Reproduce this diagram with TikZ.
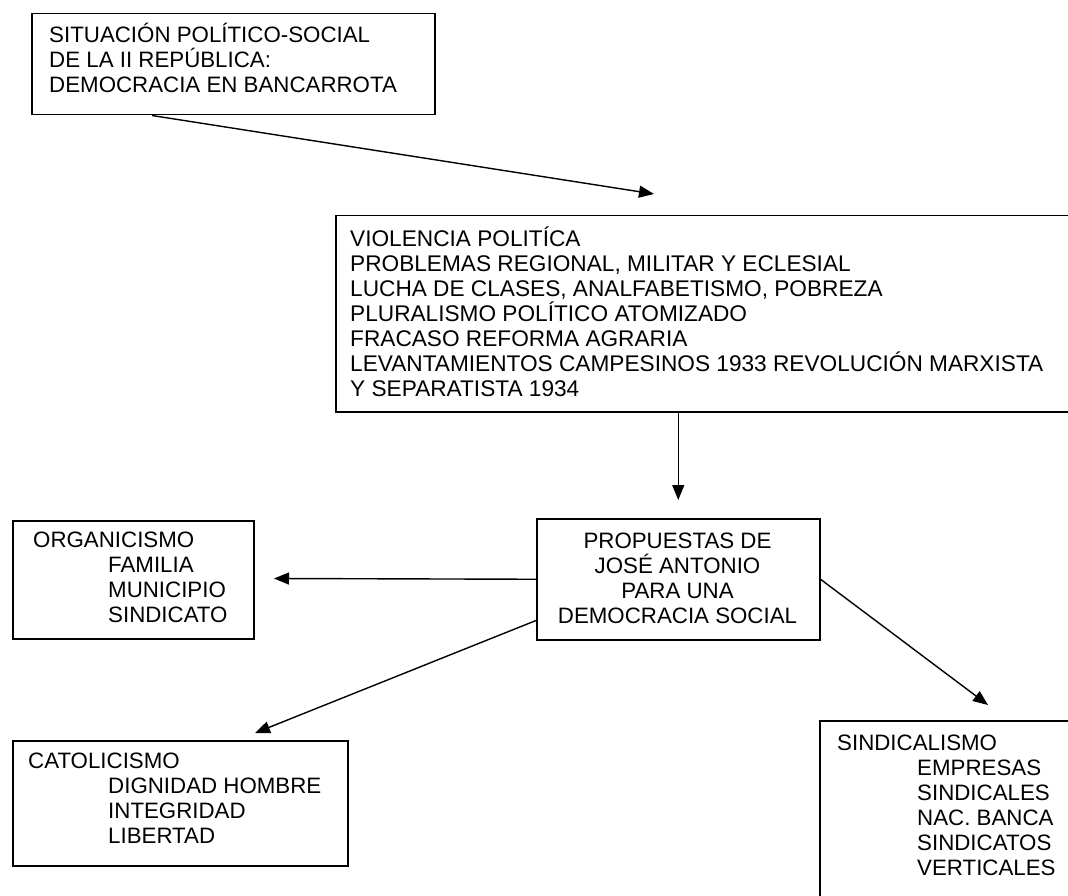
\documentclass[tikz,border=0pt]{standalone}
\usepackage{fontspec}
\setmainfont{Liberation Sans}
\usetikzlibrary{arrows.meta,calc}
\newcommand{\fs}{\fontsize{22.3pt}{25pt}\selectfont}
\newcommand{\fsb}{\fontsize{22.65pt}{25pt}\selectfont}
\newcommand{\st}{\rule{0pt}{22pt}}
\newcommand{\ind}[1]{\hspace*{#1pt}}
\begin{document}
\begin{tikzpicture}[x=1pt,y=-1pt,
  box/.style={draw, line width=1.5pt, anchor=north west, inner sep=0pt},
  txt/.style={anchor=north west, inner sep=0pt, align=left, font=\fs},
  ctxt/.style={anchor=north, inner sep=0pt, align=center, font=\fs},
  conn/.style={line width=1.4pt, -{Triangle[length=15pt,width=12pt]}}]
\useasboundingbox[fill=white] (0,0) rectangle (1068,896);

% boxes
\node[box, minimum width=403pt, minimum height=101pt] (b1) at (31,13) {};
\node[box, minimum width=745pt, minimum height=196pt] (b2) at (335,215) {};
\node[box, minimum width=283pt, minimum height=121pt] (b3) at (536,518) {};
\node[box, minimum width=241pt, minimum height=118pt] (b4) at (12,520) {};
\node[box, minimum width=335pt, minimum height=125pt] (b5) at (12,740) {};
\node[box, minimum width=260pt, minimum height=190pt] (b6) at (819,720) {};

% texts
\node[txt] (t1) at (49,20) {\st SITUACIÓN POLÍTICO-SOCIAL\\DE LA II REPÚBLICA:\\DEMOCRACIA EN BANCARROTA};
\node[txt, font=\fsb] (t2) at (350,224) {\st VIOLENCIA POLITÍCA\\PROBLEMAS REGIONAL, MILITAR Y ECLESIAL\\LUCHA DE CLASES, ANALFABETISMO, POBREZA\\PLURALISMO POLÍTICO ATOMIZADO\\FRACASO REFORMA AGRARIA\\LEVANTAMIENTOS CAMPESINOS 1933 REVOLUCIÓN MARXISTA\\Y SEPARATISTA 1934};
\node[ctxt] (t3) at (677.5,526) {\st PROPUESTAS DE\\JOSÉ ANTONIO\\PARA UNA\\DEMOCRACIA SOCIAL};
\node[txt] (t4) at (33,525) {\st ORGANICISMO\\\ind{75}FAMILIA\\\ind{75}MUNICIPIO\\\ind{75}SINDICATO};
\node[txt] (t5) at (28,746) {\st CATOLICISMO\\\ind{80}DIGNIDAD HOMBRE\\\ind{80}INTEGRIDAD\\\ind{80}LIBERTAD};
\node[txt] (t6) at (837,728) {\st SINDICALISMO\\\ind{80}EMPRESAS\\\ind{80}SINDICALES\\\ind{80}NAC. BANCA\\\ind{80}SINDICATOS\\\ind{80}VERTICALES};

% connector ends
\coordinate (a1) at (654,194);
\coordinate (a2) at ($(b3.north)+(0,-18)$);
\coordinate (a3) at (274,578.5);
\coordinate (a4) at (255,733);
\coordinate (a5) at (988,705);

\draw[conn] ($(b1.south west)+(121,0)$) -- (a1);
\draw[conn] (b3.north |- b2.south) -- (a2);
\draw[conn] (b3.west) -- (a3);
\draw[conn] ($(b3.south west)+(0,-20)$) -- (a4);
\draw[conn] (b3.east) -- (a5);
\end{tikzpicture}
\end{document}
